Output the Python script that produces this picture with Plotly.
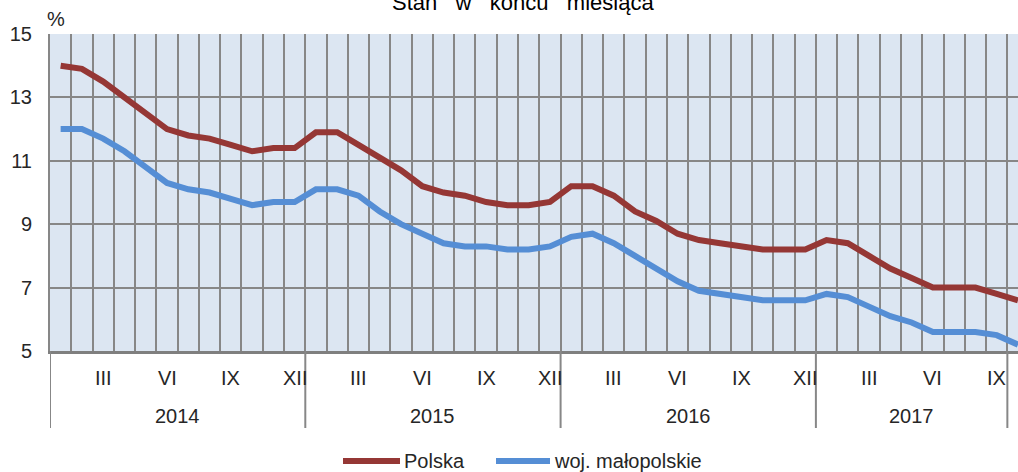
import plotly.graph_objects as go

# ---- data ----
years = ["2014", "2015", "2016", "2017"]
months_per_year = [12, 12, 12, 10]
roman = ["I", "II", "III", "IV", "V", "VI", "VII", "VIII", "IX", "X", "XI", "XII"]
shown_months = ["III", "VI", "IX", "XII"]

polska = [14.0, 13.9, 13.5, 13.0, 12.5, 12.0, 11.8, 11.7, 11.5, 11.3, 11.4, 11.4,
          11.9, 11.9, 11.5, 11.1, 10.7, 10.2, 10.0, 9.9, 9.7, 9.6, 9.6, 9.7,
          10.2, 10.2, 9.9, 9.4, 9.1, 8.7, 8.5, 8.4, 8.3, 8.2, 8.2, 8.2,
          8.5, 8.4, 8.0, 7.6, 7.3, 7.0, 7.0, 7.0, 6.8, 6.6]
malopolskie = [12.0, 12.0, 11.7, 11.3, 10.8, 10.3, 10.1, 10.0, 9.8, 9.6, 9.7, 9.7,
               10.1, 10.1, 9.9, 9.4, 9.0, 8.7, 8.4, 8.3, 8.3, 8.2, 8.2, 8.3,
               8.6, 8.7, 8.4, 8.0, 7.6, 7.2, 6.9, 6.8, 6.7, 6.6, 6.6, 6.6,
               6.8, 6.7, 6.4, 6.1, 5.9, 5.6, 5.6, 5.6, 5.5, 5.2]
y_ticks = [5, 7, 9, 11, 13, 15]
title_words = ["Stan", "w", "końcu", "miesiąca"]

# ---- build month index / labels ----
labels = []
for yr, n in zip(years, months_per_year):
    for m in range(n):
        labels.append(roman[m])
x = list(range(len(labels)))
title_text = "\u00a0\u00a0 ".join(title_words)

W, H = 1018, 472
ML, MR, MT, MB = 50, 0, 34, H - 351
PH = H - MT - MB
PW = W - ML - MR

def py(pix):  # screen pixel -> paper y
    return (351 - pix) / PH

def px(pix):  # screen pixel -> paper x
    return (pix - 50) / PW

RED = "#953735"
BLUE = "#558ed5"
GRID = "#878787"
TXT = "#262626"
FONT = "Liberation Sans, Arial, sans-serif"
FS = 20

fig = go.Figure()
fig.add_trace(go.Scatter(x=x, y=polska, mode="lines", name="Polska",
                         line=dict(color=RED, width=6), showlegend=False))
fig.add_trace(go.Scatter(x=x, y=malopolskie, mode="lines", name="woj. małopolskie",
                         line=dict(color=BLUE, width=6), showlegend=False))

boundaries = [i - 0.5 for i in range(len(labels))]

annotations = []
for i, lab in enumerate(labels):
    if lab in shown_months:
        annotations.append(dict(x=i, y=py(378), xref="x", yref="paper", text=lab,
                                showarrow=False, font=dict(size=FS, color=TXT, family=FONT),
                                xanchor="center", yanchor="middle"))
shapes = []
start = 0
for yr, n in zip(years, months_per_year):
    end = start + n
    is_last = yr == years[-1]
    centre = (start + (end - 1)) / 2 if not is_last else (start + (end - 2)) / 2
    annotations.append(dict(x=centre, y=py(416), xref="x", yref="paper", text=yr,
                            showarrow=False, font=dict(size=FS, color=TXT, family=FONT),
                            xanchor="center", yanchor="middle"))
    sep = (end - 0.5) if not is_last else (end - 1.5)
    shapes.append(dict(type="line", xref="x", yref="paper", x0=sep, x1=sep,
                       y0=0, y1=py(428), line=dict(color=GRID, width=2)))
    start = end
shapes.append(dict(type="line", xref="x", yref="paper", x0=-0.5, x1=-0.5,
                   y0=0, y1=py(428), line=dict(color=GRID, width=2)))

annotations.append(dict(x=px(523), y=py(3), xref="paper", yref="paper", text=title_text,
                        showarrow=False, font=dict(size=22, color="#000000", family=FONT),
                        xanchor="center", yanchor="middle"))
annotations.append(dict(x=px(45), y=py(19), xref="paper", yref="paper", text="%",
                        showarrow=False, font=dict(size=FS, color=TXT, family=FONT),
                        xanchor="left", yanchor="middle"))

for (x0, x1, xt, col, name) in [(343, 400, 402, RED, "Polska"),
                                 (496, 550, 552, BLUE, "woj. małopolskie")]:
    shapes.append(dict(type="line", xref="paper", yref="paper", x0=px(x0), x1=px(x1),
                       y0=py(461), y1=py(461), line=dict(color=col, width=6)))
    annotations.append(dict(x=px(xt), y=py(461), xref="paper", yref="paper", text=name,
                            showarrow=False, font=dict(size=FS, color=TXT, family=FONT),
                            xanchor="left", yanchor="middle"))

fig.update_layout(
    width=W, height=H, autosize=False,
    margin=dict(l=ML, r=MR, t=MT, b=MB, pad=0),
    paper_bgcolor="#ffffff", plot_bgcolor="#dce6f2",
    showlegend=False,
    annotations=annotations, shapes=shapes,
    xaxis=dict(range=[-0.5, len(labels) - 1], tickvals=boundaries, showticklabels=False,
               showgrid=True, gridcolor=GRID, gridwidth=2, zeroline=False,
               showline=True, linecolor="#7f7f7f", linewidth=3, ticks=""),
    yaxis=dict(range=[5, 15], tickvals=y_ticks, showgrid=True, gridcolor=GRID, gridwidth=2,
               zeroline=False, showline=True, linecolor=GRID, linewidth=2,
               ticks="outside", ticklen=12, tickcolor="rgba(0,0,0,0)",
               tickfont=dict(size=FS, color=TXT, family=FONT)),
)

fig.write_html("out.html", config={"displayModeBar": False},
               post_script="document.body.style.margin='0';")
